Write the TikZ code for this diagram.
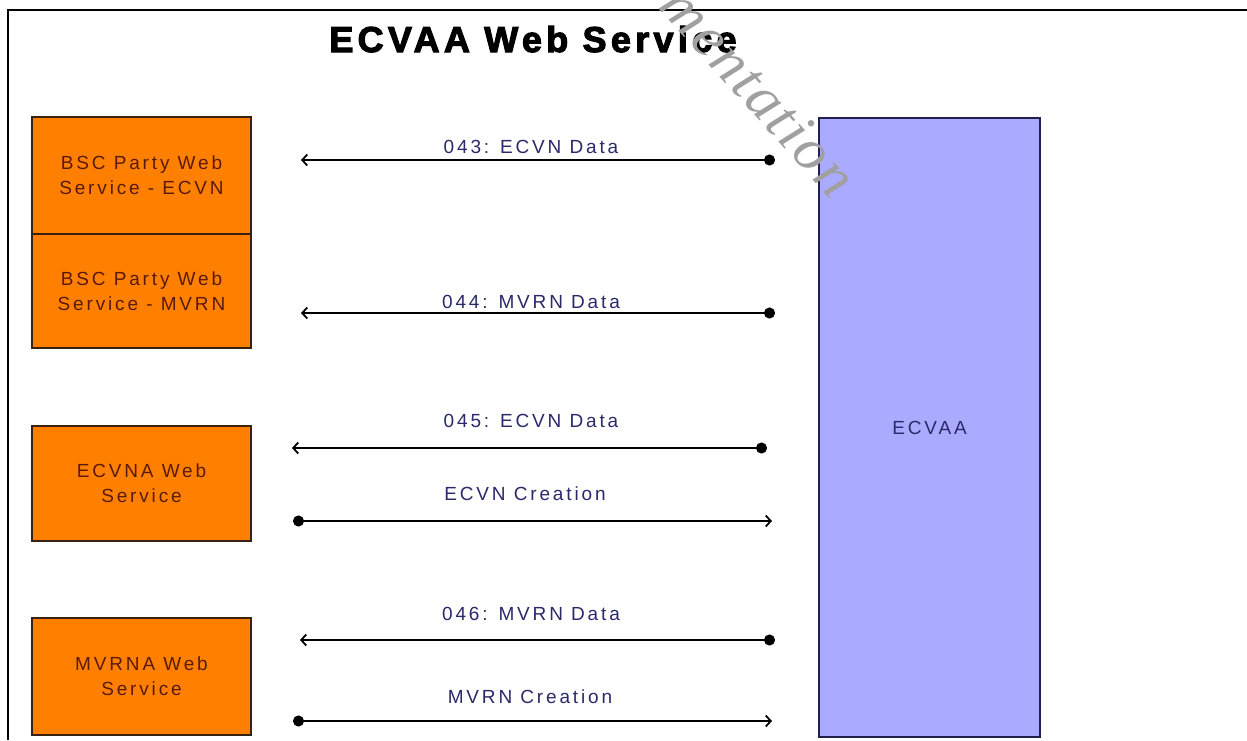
\documentclass[tikz,border=0pt]{standalone}
\usepackage{fontspec}
\setmainfont{Liberation Sans}
\newfontfamily\labfont{Liberation Sans}[LetterSpace=15]
\newfontfamily\titlefont{Liberation Sans Bold}[LetterSpace=12,FakeBold=3]
\newfontfamily\wmfont{Liberation Serif}[LetterSpace=4]
\usetikzlibrary{arrows.meta}
\definecolor{orangefill}{HTML}{FF8000}
\definecolor{boxline}{HTML}{3A2010}
\definecolor{boxtext}{HTML}{5A1A0A}
\definecolor{lavender}{HTML}{AAAAFF}
\definecolor{navyline}{HTML}{20204A}
\definecolor{labtext}{HTML}{2A2A6A}
\definecolor{wmgray}{HTML}{A0A0A0}
\tikzset{
  svcbox/.style={draw=boxline, fill=orangefill, line width=1.5pt, minimum width=219pt,
    inner sep=0pt, align=center, text=boxtext, font=\labfont\fontsize{19}{25}\selectfont},
  mainbox/.style={draw=navyline, fill=lavender, line width=1.5pt, minimum width=221pt,
    minimum height=619pt, inner sep=0pt, text=labtext, font=\labfont\fontsize{19}{22}\selectfont},
  msg/.style={line width=1.8pt, draw=black},
  barbdot/.style={msg, {Straight Barb[length=5pt,width=11pt]}-{Circle[length=11pt]}},
  dotbarb/.style={msg, {Circle[length=11pt]}-{Straight Barb[length=5pt,width=11pt]}},
  lab/.style={anchor=base, inner sep=0pt, text=labtext, font=\labfont\fontsize{19}{22}\selectfont},
}
\begin{document}
\begin{tikzpicture}[x=1pt,y=-1pt]
\useasboundingbox (0,0) rectangle (1247,740);
\fill[white] (0,0) rectangle (1247,740);
% frame
\draw[line width=2.5pt] (8,740) -- (8,10) -- (1247,10);
% title
\node[anchor=base, inner sep=0pt, font=\titlefont\fontsize{36}{40}\selectfont] (title) at (533,52) {ECVAA Web Service};
% boxes
\node[svcbox, minimum height=117pt] (b1) at (141.5,175.5) {BSC Party Web\\Service - ECVN};
\node[svcbox, minimum height=114pt] (b2) at (141.5,291) {BSC Party Web\\Service - MVRN};
\node[svcbox, minimum height=115pt] (b3) at (141.5,483.5) {ECVNA Web\\Service};
\node[svcbox, minimum height=117pt] (b4) at (141.5,676.5) {MVRNA Web\\Service};
\node[mainbox] (ecvaa) at (929.5,427.5) {ECVAA};
% connector end points
\coordinate (m1l) at (301,160); \coordinate (m1r) at (775,160);
\coordinate (m2l) at (301,313); \coordinate (m2r) at (775,313);
\coordinate (m3l) at (292,448); \coordinate (m3r) at (767,448);
\coordinate (m4l) at (293,521); \coordinate (m4r) at (772,521);
\coordinate (m5l) at (300,640); \coordinate (m5r) at (775,640);
\coordinate (m6l) at (293,721); \coordinate (m6r) at (772,721);
\draw[barbdot] (m1l) -- (m1r);
\draw[barbdot] (m2l) -- (m2r);
\draw[barbdot] (m3l) -- (m3r);
\draw[dotbarb] (m4l) -- (m4r);
\draw[barbdot] (m5l) -- (m5r);
\draw[dotbarb] (m6l) -- (m6r);
% labels
\node[lab] (l1) at (531,153) {043: ECVN Data};
\node[lab] (l2) at (531,308) {044: MVRN Data};
\node[lab] (l3) at (531,427) {045: ECVN Data};
\node[lab] (l4) at (525,500) {ECVN Creation};
\node[lab] (l5) at (531,620) {046: MVRN Data};
\node[lab] (l6) at (530,703) {MVRN Creation};
% watermark (on top)
\begin{scope}
\clip (0,0) rectangle (1247,740);
\node[text=wmgray, font=\wmfont\itshape\fontsize{60}{64}\selectfont, rotate=-48, inner sep=0pt] (wm) at (759,91) {mentation};
\end{scope}
\end{tikzpicture}
\end{document}
